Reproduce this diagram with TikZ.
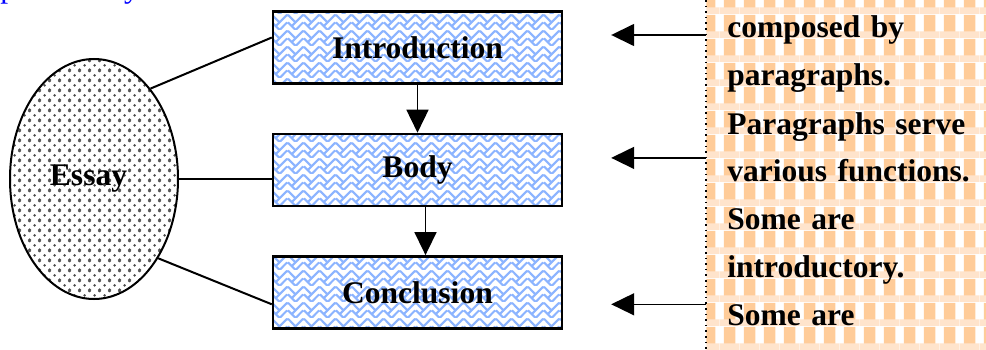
\documentclass[tikz,border=0pt]{standalone}
\usepackage{fontspec}
\setmainfont{Liberation Serif}
\usetikzlibrary{arrows.meta,positioning,shapes.geometric,patterns.meta,calc}

\definecolor{weaveblue}{RGB}{140,180,255}
\definecolor{plaidorange}{RGB}{255,204,153}
\definecolor{plaidlight}{RGB}{255,228,204}

\tikzdeclarepattern{
  name=weave, type=colored,
  bottom left={(0pt,0pt)}, top right={(8pt,8pt)},
  tile size={(8pt,8pt)},
  code={
    \fill[white] (0pt,0pt) rectangle (8pt,8pt);
    \draw[weaveblue, line width=1.1pt]
      (0pt,4pt) -- (4pt,0pt) -- (8pt,4pt)
      (0pt,8pt) -- (4pt,4pt) -- (8pt,8pt)
      (2pt,2pt) -- (4pt,4pt) (6pt,6pt) -- (8pt,8pt);
  }}
\tikzdeclarepattern{
  name=essaydots, type=colored,
  bottom left={(0pt,0pt)}, top right={(5pt,5pt)},
  tile size={(5pt,5pt)},
  code={
    \fill[white] (0pt,0pt) rectangle (5pt,5pt);
    \fill[black!70] (0pt,0pt) circle (0.75pt) (5pt,0pt) circle (0.75pt)
      (0pt,5pt) circle (0.75pt) (5pt,5pt) circle (0.75pt)
      (2.5pt,2.5pt) circle (0.75pt);
  }}
\tikzdeclarepattern{
  name=plaid, type=colored,
  bottom left={(0pt,0pt)}, top right={(10pt,12pt)},
  tile size={(10pt,12pt)},
  code={
    \fill[white] (0pt,0pt) rectangle (10pt,12pt);
    \fill[plaidorange] (2pt,0pt) rectangle (8pt,12pt);
    \fill[plaidlight] (0pt,0pt) rectangle (10pt,3.5pt);
  }}

\begin{document}
\begin{tikzpicture}[
  x=0.5pt, y=0.5pt,
  font=\bfseries\fontsize{15.75}{24}\selectfont,
  box/.style={
     rectangle, draw=black, line width=1.2pt,
     pattern=weave,
     minimum width=144.5pt, minimum height=36pt, inner sep=0pt},
  essaybox/.style={
     ellipse, draw=black, line width=1pt,
     pattern=essaydots,
     minimum width=84pt, minimum height=120pt, inner sep=0pt},
  notes/.style={
     rectangle, pattern=plaid,
     text width=130pt, align=left,
     inner xsep=10.5pt, minimum height=210pt},
  cut/.style={font=\fontsize{15.75}{24}\selectfont, text=blue, inner sep=0pt},
  arrow/.style={-{Triangle[length=11.5pt,width=11pt]}, line width=0.8pt},
  link/.style={line width=1pt},
  node distance=24pt]
\useasboundingbox (0,0) rectangle (986,349);
% notes on the right
\node[notes, anchor=base west] (notes) at (706,311)
  {composed by\\paragraphs.\\Paragraphs serve\\various functions.\\Some are\\introductory.\\Some are};
\draw[dotted, line width=0.8pt] (notes.north west) -- (notes.south west);
\node[cut, anchor=base west] (cut) at (0,351) {p\hspace{54pt}y};
% essay and its parts
\node[essaybox] (essay) at (94,170) {Essay\hspace*{5.5pt}};
\node[box] (intro) at (417.5,301.5) {Introduction};
\node[box, below=of intro] (body) {Body};
\node[box, below=of body] (concl) {Conclusion};
% links
\draw[link] (essay.58) -- ([yshift=5pt]intro.west);
\draw[link] (essay.east) -- (essay.east -| body.west);
\draw[link] (essay.-51) -- ([yshift=-6pt]concl.west);
\draw[arrow] (intro) -- (body);
\draw[arrow] ([xshift=4pt]body.south) -- ([xshift=4pt]concl.north);
% arrows from the notes
\draw[arrow] ($(intro.east -| notes.west)+(0,6.25pt)$) -- ($(intro.east)+(24pt,6.25pt)$);
\draw[arrow] ($(body.east -| notes.west)+(0,6pt)$) -- ($(body.east)+(24pt,6pt)$);
\draw[arrow] ($(concl.east -| notes.west)+(0,-6pt)$) -- ($(concl.east)+(24pt,-6pt)$);
\end{tikzpicture}
\end{document}
